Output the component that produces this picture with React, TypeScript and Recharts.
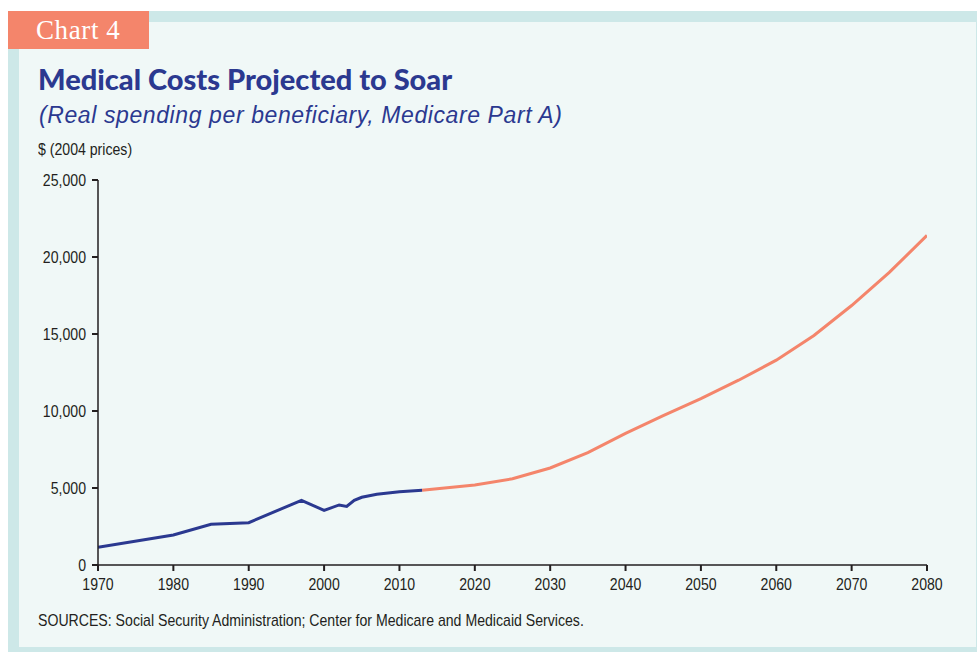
import React from "react";
import { LineChart, Line, XAxis, YAxis } from "recharts";

// historical (blue) and projected (salmon), $ per beneficiary in 2004 prices
const histYears = [1970, 1980, 1985, 1990, 1997, 2000, 2002, 2003, 2004, 2005, 2007, 2010, 2013];
const histValues = [1150, 1950, 2650, 2750, 4200, 3550, 3900, 3800, 4200, 4400, 4600, 4750, 4850];

const projYears = [2013, 2015, 2020, 2025, 2030, 2035, 2040, 2045, 2050, 2055, 2060, 2065, 2070, 2075, 2080];
const projValues = [4850, 4950, 5200, 5600, 6300, 7300, 8550, 9700, 10800, 12000, 13300, 14900, 16850, 19000, 21400];

const xTicks = [1970, 1980, 1990, 2000, 2010, 2020, 2030, 2040, 2050, 2060, 2070, 2080];
const yTicks = [0, 5000, 10000, 15000, 20000, 25000];

const sans = "'Liberation Sans', Arial, sans-serif";
const squeeze = 0.83; // no condensed face installed, so squash the regular one
const ink = "#231f20";
const blue = "#2b3990";
const salmon = "#f4856b";

// axis label drawn condensed
function NarrowTick(props: any) {
  const { x, y, payload, textAnchor, verticalAnchor, tickFormatter } = props;
  const label = tickFormatter ? tickFormatter(payload.value) : payload.value;
  const dy = verticalAnchor === "start" ? "0.71em" : "0.355em";
  return (
    <text
      transform={`translate(${x} ${y}) scale(${squeeze} 1)`}
      x={0}
      y={0}
      dy={dy}
      textAnchor={textAnchor}
      fontSize={17}
      fontFamily={sans}
      fill={ink}
    >
      {label}
    </text>
  );
}

const noteStyle: React.CSSProperties = {
  position: "absolute",
  fontFamily: sans,
  fontSize: 17,
  color: ink,
  whiteSpace: "nowrap",
  transform: `scaleX(${squeeze})`,
  transformOrigin: "left top",
};

export default function App() {
  const histData = histYears.map((year, i) => ({ year, value: histValues[i] }));
  const projData = projYears.map((year, i) => ({ year, value: projValues[i] }));

  return (
    <div style={{ position: "absolute", left: 0, top: 0, width: 977, height: 652 }}>
      {/* teal frame */}
      <div style={{ position: "absolute", left: 8, top: 11, width: 969, height: 641, background: "#cde8e8" }} />
      <div style={{ position: "absolute", left: 19, top: 22, width: 957, height: 625, background: "#f0f8f7" }} />

      <div
        style={{
          position: "absolute", left: 8, top: 11, width: 141, height: 38, background: salmon,
          color: "#fff", fontFamily: "'Liberation Serif', serif", fontSize: 27, lineHeight: "38px",
          paddingLeft: 28, boxSizing: "border-box", letterSpacing: 0.6,
        }}
      >
        Chart 4
      </div>

      <div style={{ position: "absolute", left: 38, top: 61, fontFamily: "Lato, sans-serif", fontWeight: 900, fontSize: 29, color: blue, whiteSpace: "nowrap" }}>
        Medical Costs Projected to Soar
      </div>
      <div style={{ position: "absolute", left: 39, top: 102, fontFamily: sans, fontStyle: "italic", fontSize: 23, letterSpacing: 0.6, color: blue, whiteSpace: "nowrap" }}>
        (Real spending per beneficiary, Medicare Part A)
      </div>
      <div style={{ ...noteStyle, left: 38, top: 140 }}>$ (2004 prices)</div>
      <div style={{ ...noteStyle, left: 38, top: 611 }}>
        SOURCES: Social Security Administration; Center for Medicare and Medicaid Services.
      </div>

      <div style={{ position: "absolute", left: 0, top: 0 }}>
        <LineChart width={977} height={652} margin={{ top: 180, right: 50, bottom: 57, left: 38 }}>
          <XAxis
            dataKey="year"
            type="number"
            domain={[1970, 2080]}
            ticks={xTicks}
            allowDataOverflow
            axisLine={{ stroke: ink, strokeWidth: 1.5 }}
            tickLine={{ stroke: ink, strokeWidth: 2 }}
            tickSize={6}
            tickMargin={7}
            height={30}
            tick={<NarrowTick />}
          />
          <YAxis
            type="number"
            domain={[0, 25000]}
            ticks={yTicks}
            width={60}
            axisLine={{ stroke: ink, strokeWidth: 1.5 }}
            tickLine={{ stroke: ink, strokeWidth: 2 }}
            tickSize={6}
            tickMargin={6}
            tickFormatter={(v: number) => v.toLocaleString("en-US")}
            tick={<NarrowTick />}
          />
          <Line data={projData} dataKey="value" type="linear" stroke={salmon} strokeWidth={3} dot={false} isAnimationActive={false} />
          <Line data={histData} dataKey="value" type="linear" stroke={blue} strokeWidth={3} dot={false} isAnimationActive={false} />
        </LineChart>
      </div>
    </div>
  );
}
